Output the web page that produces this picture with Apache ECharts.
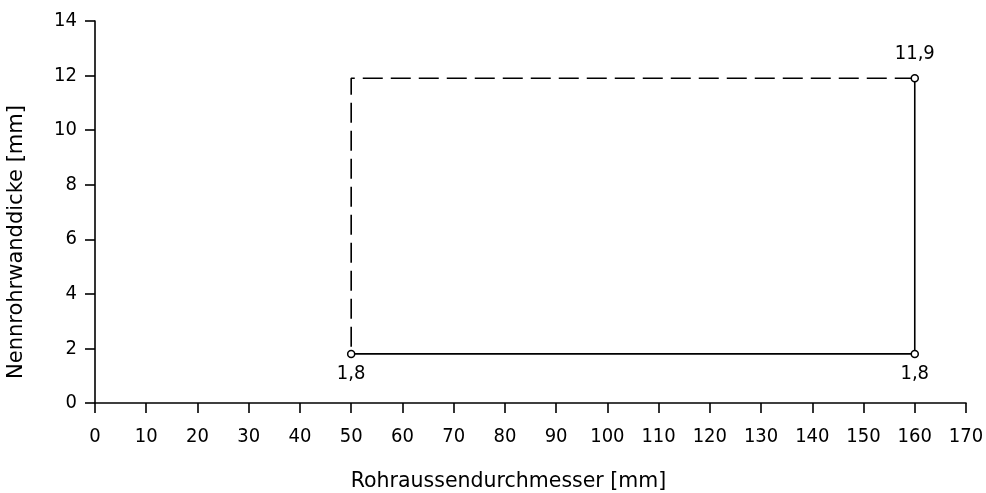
<!DOCTYPE html>
<html><head><meta charset="utf-8">
<script src="https://cdn.jsdelivr.net/npm/echarts@6/dist/echarts.min.js"></script>
<style>html,body{margin:0;padding:0;background:#fff}#c{width:986px;height:493px}</style>
</head><body><div id="c"></div>
<script>
var xTicks = [0,10,20,30,40,50,60,70,80,90,100,110,120,130,140,150,160,170];
var yTicks = [0,2,4,6,8,10,12,14];
var solidEdge = [[50,1.8],[160,1.8],[160,11.9]];
var dashedEdge = [[160,11.9],[50,11.9],[50,1.8]];
var markedPoints = [[50,1.8],[160,1.8],[160,11.9]];
var markedPos = ['bottom','bottom','top'];
var xName = 'Rohraussendurchmesser [mm]';
var yName = 'Nennrohrwanddicke [mm]';

var tickFont = 'DejaVu Sans Condensed';
var nameFont = 'DejaVu Sans';
var chart = echarts.init(document.getElementById('c'));
chart.setOption({
  animation:false,
  grid:{left:95,right:20,top:21,bottom:90,containLabel:false,outerBoundsMode:'none'},
  xAxis:{type:'value',min:0,max:170,interval:10,
    name:xName,nameLocation:'middle',nameGap:68,
    nameTextStyle:{fontFamily:nameFont,fontSize:20.5,color:'#000',padding:[0,44,0,0]},
    axisLine:{show:true,lineStyle:{color:'#000',width:1.6}},
    axisTick:{show:true,length:10,lineStyle:{color:'#000',width:1.6}},
    axisLabel:{fontFamily:tickFont,fontSize:20,color:'#000',margin:24},
    splitLine:{show:false}},
  yAxis:{type:'value',min:0,max:14,interval:2,
    name:yName,nameLocation:'middle',nameGap:68,nameRotate:90,
    nameTextStyle:{fontFamily:nameFont,fontSize:21,color:'#000',padding:[0,60,0,0]},
    axisLine:{show:true,lineStyle:{color:'#000',width:1.6}},
    axisTick:{show:true,length:10,lineStyle:{color:'#000',width:1.6}},
    axisLabel:{fontFamily:tickFont,fontSize:20,color:'#000',margin:18},
    splitLine:{show:false}},
  series:[
    {type:'line',data:solidEdge,symbol:'none',lineStyle:{color:'#000',width:1.6}},
    {type:'line',data:dashedEdge,symbol:'none',lineStyle:{color:'#000',width:1.6,type:[20,8]}},
    {type:'scatter',symbol:'circle',symbolSize:7,
      itemStyle:{color:'#fff',borderColor:'#000',borderWidth:1.5,opacity:1},
      data:markedPoints.map(function(p,i){
        return {value:p,label:{show:true,position:markedPos[i],distance:i===2?10:6,
          formatter:String(p[1]).replace('.',','),
          fontFamily:tickFont,fontSize:20,color:'#000'}};
      }),z:5}
  ]
});
</script></body></html>
